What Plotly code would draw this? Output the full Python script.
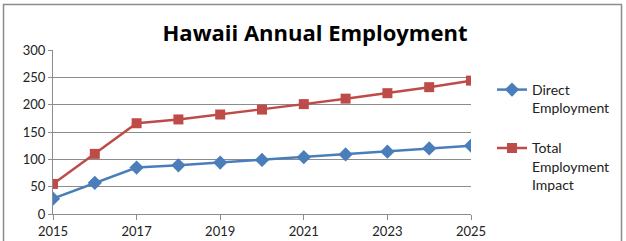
import plotly.graph_objects as go

years = [2015, 2016, 2017, 2018, 2019, 2020, 2021, 2022, 2023, 2024, 2025]
direct = [28, 57, 85, 89, 94, 99, 104, 109, 114, 120, 125]
total = [55, 110, 166, 173, 182, 191, 201, 211, 221, 232, 244]
series_names = ["Direct<br>Employment", "Total<br>Employment<br>Impact"]
title_text = "Hawaii Annual Employment"

W, H = 626, 241
L, R, T, B = 53, 471, 50, 214

fig = go.Figure()
fig.add_trace(go.Scatter(x=years, y=direct, name=series_names[0], mode="lines+markers",
                         legendgroup="g1",
                         line=dict(color="#4A7EBB", width=2.5),
                         marker=dict(symbol="diamond", size=11, color="#4A7EBB")))
fig.add_trace(go.Scatter(x=years, y=total, name=series_names[1], mode="lines+markers",
                         legendgroup="g2",
                         line=dict(color="#BE4B48", width=2.5),
                         marker=dict(symbol="square", size=10, color="#BE4B48")))

def px_to_paper_x(px):
    return (px - L) / (R - L)

def px_to_paper_y(py):
    return (B - py) / (B - T)

fig.add_shape(type="rect", xref="paper", yref="paper",
              x0=px_to_paper_x(3.5), x1=px_to_paper_x(621.5),
              y0=px_to_paper_y(250), y1=px_to_paper_y(4.5),
              line=dict(color="#8C8C8C", width=1.5), layer="below")

fig.update_layout(
    width=W, height=H,
    margin=dict(l=L, r=W - R, t=T, b=H - B, autoexpand=False),
    paper_bgcolor="white", plot_bgcolor="white",
    font=dict(family="Lato, Open Sans, sans-serif", size=13, color="#222222"),
    title=dict(text="<b>" + title_text + "</b>", x=315 / W, xanchor="center",
               y=1 - 33 / H, yanchor="middle",
               font=dict(size=22, color="black", family="Open Sans, Lato, sans-serif")),
    showlegend=True,
    legend=dict(x=px_to_paper_x(492), y=px_to_paper_y(74), xanchor="left", yanchor="top",
                font=dict(size=14, color="#222222"), valign="top",
                tracegroupgap=19, bgcolor="rgba(0,0,0,0)"),
    xaxis=dict(range=[2015, 2025], tick0=2015, dtick=2, showgrid=False,
               showline=True, linecolor="#8C8C8C", linewidth=1,
               ticks="outside", ticklen=5, tickcolor="#8C8C8C", zeroline=False,
               tickfont=dict(size=13), automargin=False),
    yaxis=dict(range=[0, 300], dtick=50, showgrid=True, gridcolor="#8C8C8C", gridwidth=1,
               showline=True, linecolor="#8C8C8C", linewidth=1,
               ticks="outside", ticklen=4, tickcolor="#8C8C8C", zeroline=False,
               tickfont=dict(size=13), automargin=False),
)

fig.write_html("out.html", config={"displayModeBar": False},
               post_script="document.body.style.margin='0';document.body.style.overflow='hidden';")
